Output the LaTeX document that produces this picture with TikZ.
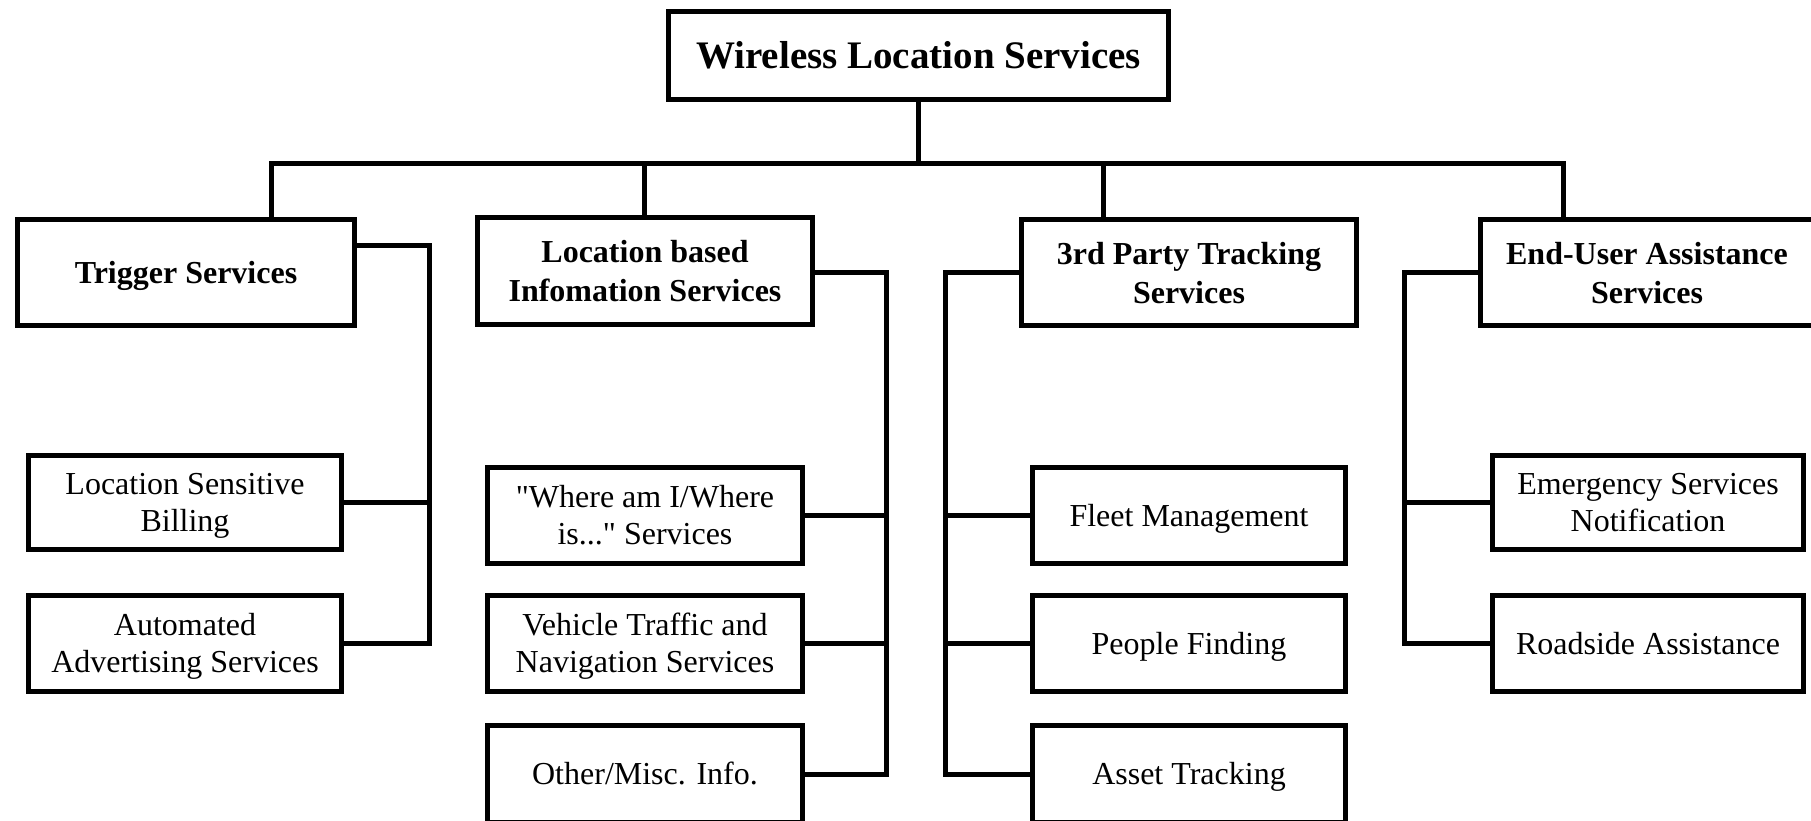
\documentclass[tikz,border=0pt]{standalone}
\usepackage{fontspec}
\setmainfont{Liberation Serif}[Ligatures=TeXOff]
\newcommand{\lwr}[1]{\raisebox{-3.5pt}[\height][\depth]{\begin{tabular}{@{}c@{}}#1\end{tabular}}}
\begin{document}
\begin{tikzpicture}[x=1pt,y=-1pt,
  box/.style 2 args={draw, line width=5.5pt, inner sep=0pt, align=center,
    minimum width=#1pt, minimum height=#2pt},
  topfont/.style={font=\fontsize{39}{46}\selectfont\bfseries},
  catfont/.style={font=\fontsize{32}{39}\selectfont\bfseries},
  itemfont/.style={font=\fontsize{32}{37}\selectfont},
  conn/.style={line width=5pt, line cap=rect}]
\useasboundingbox (0,0) rectangle (1811,821);
\fill[white] (0,0) rectangle (1811,821);
\clip (0,0) rectangle (1811,821);

% root
\node[box={500}{88}, topfont] (top) at (918.5,55.5) {\lwr{Wireless Location Services}};

% categories
\node[box={337}{106}, catfont] (trig) at (186,272.5) {\lwr{Trigger Services}};
\node[box={335}{107}, catfont] (loc) at (645,271) {\lwr{Location based\\Infomation Services}};
\node[box={335}{106}, catfont] (third) at (1189,272.5) {\lwr{3rd Party Tracking\\Services}};
\node[box={333}{106}, catfont] (endu) at (1647,272.5) {\lwr{End-User Assistance\\Services}};

% items
\node[box={313}{94}, itemfont] (bill) at (185,502.5) {\lwr{Location Sensitive\\Billing}};
\node[box={313}{96}, itemfont] (auto) at (185,643.5) {\lwr{Automated\\Advertising Services}};

\node[box={315}{96}, itemfont] (where) at (645,515.5) {\lwr{"Where am I/Where\\is..." Services}};
\node[box={315}{96}, itemfont] (veh) at (645,643.5) {\lwr{Vehicle Traffic and\\Navigation Services}};
\node[box={315}{97}, itemfont] (other) at (645,774) {\lwr{Other/Misc. Info.}};

\node[box={313}{96}, itemfont] (fleet) at (1189,515.5) {\lwr{Fleet Management}};
\node[box={313}{96}, itemfont] (people) at (1189,643.5) {\lwr{People Finding}};
\node[box={313}{97}, itemfont] (asset) at (1189,774) {\lwr{Asset Tracking}};

\node[box={311}{94}, itemfont] (emerg) at (1648,502.5) {\lwr{Emergency Services\\Notification}};
\node[box={311}{96}, itemfont] (road) at (1648,643.5) {\lwr{Roadside Assistance}};

% bus
\coordinate (bT) at (271,164);
\coordinate (bL) at (644,164);
\coordinate (bP) at (1103,164);
\coordinate (bE) at (1563,164);
\draw[conn] (top.south) -- (top.south |- bT);
\draw[conn] (trig.north -| bT) -- (bT) -- (bE) -- (bE |- endu.north);
\draw[conn] (bL) -- (bL |- loc.north);
\draw[conn] (bP) -- (bP |- third.north);

% trigger branch
\coordinate (tv) at (429,245);
\draw[conn] (trig.east |- tv) -- (tv) -- (tv |- auto.east) -- (auto.east);
\draw[conn] (tv |- bill.east) -- (bill.east);

% location info branch
\coordinate (lv) at (886,272);
\draw[conn] (loc.east |- lv) -- (lv) -- (lv |- other.east) -- (other.east);
\draw[conn] (lv |- where.east) -- (where.east);
\draw[conn] (lv |- veh.east) -- (veh.east);

% third party branch
\coordinate (pv) at (945,272);
\draw[conn] (third.west |- pv) -- (pv) -- (pv |- asset.west) -- (asset.west);
\draw[conn] (pv |- fleet.west) -- (fleet.west);
\draw[conn] (pv |- people.west) -- (people.west);

% end-user branch
\coordinate (ev) at (1404,272);
\draw[conn] (endu.west |- ev) -- (ev) -- (ev |- road.west) -- (road.west);
\draw[conn] (ev |- emerg.west) -- (emerg.west);
\end{tikzpicture}
\end{document}
